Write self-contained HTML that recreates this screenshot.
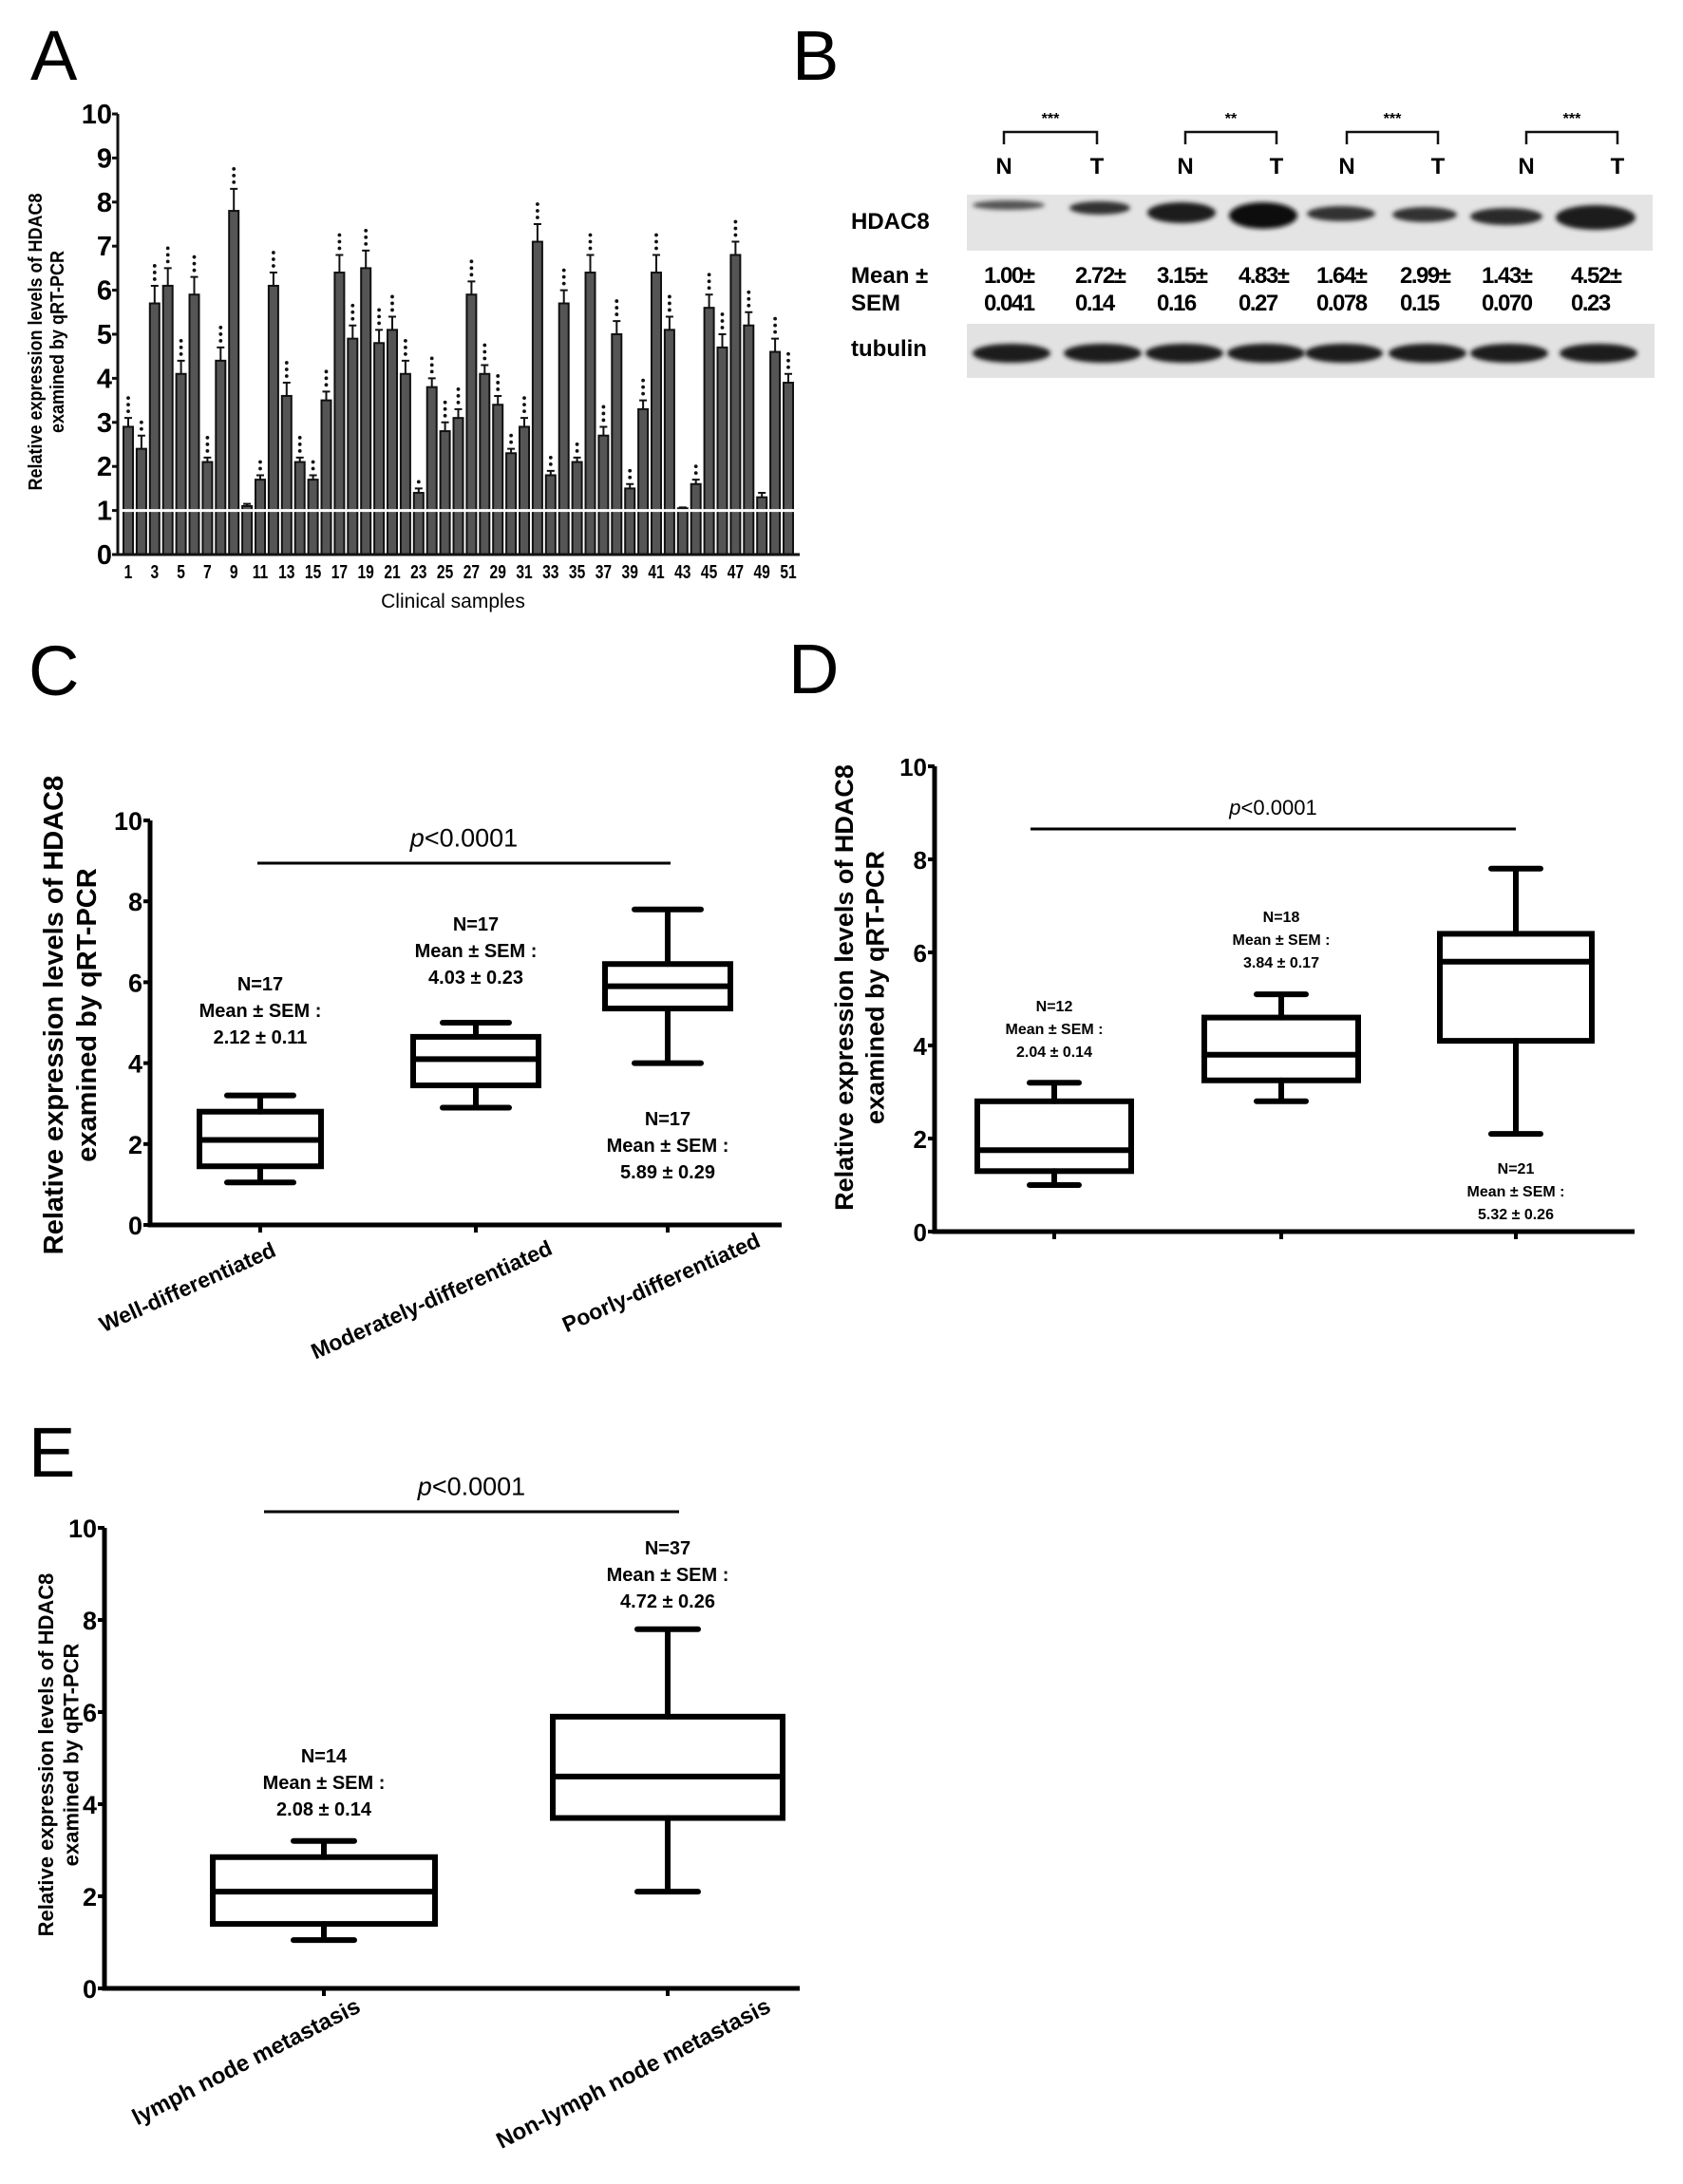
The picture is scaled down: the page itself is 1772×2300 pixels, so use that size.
<!DOCTYPE html>
<html><head><meta charset="utf-8"><style>
html,body{margin:0;padding:0;background:#fff}
svg{display:block}
text{font-family:"Liberation Sans",sans-serif}
</style></head><body>
<svg id="fig" width="1772" height="2300" viewBox="0 0 1772 2300" xmlns="http://www.w3.org/2000/svg">
<defs><filter id="blur" x="-20%" y="-50%" width="140%" height="200%"><feGaussianBlur stdDeviation="2.5"/></filter></defs>
<rect width="1772" height="2300" fill="#fff"/>
<g id="A"></g>
<g id="B"></g>
<g id="C"></g>
<g id="D"></g>
<g id="E"></g>
</svg>
<script>
// ---------- Panel A data ----------
const sampleValues = [2.9,2.4,5.7,6.1,4.1,5.9,2.1,4.4,7.8,1.1,1.7,6.1,3.6,2.1,1.7,3.5,6.4,4.9,6.5,4.8,5.1,4.1,1.4,3.8,2.8,3.1,5.9,4.1,3.4,2.3,2.9,7.1,1.8,5.7,2.1,6.4,2.7,5.0,1.5,3.3,6.4,5.1,1.05,1.6,5.6,4.7,6.8,5.2,1.3,4.6,3.9];
const sampleErrors = [0.2,0.3,0.4,0.4,0.3,0.4,0.1,0.3,0.5,0.05,0.1,0.3,0.3,0.1,0.1,0.2,0.4,0.3,0.4,0.3,0.3,0.3,0.1,0.2,0.2,0.2,0.3,0.2,0.2,0.1,0.2,0.4,0.1,0.3,0.1,0.4,0.2,0.3,0.1,0.2,0.4,0.3,0.02,0.1,0.3,0.3,0.3,0.3,0.1,0.3,0.2];
const sampleStars = [3,2,3,3,3,3,3,3,3,0,2,3,3,3,2,3,3,3,3,3,3,3,1,3,3,3,3,3,3,2,3,3,2,3,2,3,3,3,2,3,3,3,0,2,3,3,3,3,0,3,3];
const aTicks = [0,1,2,3,4,5,6,7,8,9,10];
// ---------- Panel B data ----------
const blotMeans = ["1.00","2.72","3.15","4.83","1.64","2.99","1.43","4.52"];
const blotSems = ["0.041","0.14","0.16","0.27","0.078","0.15","0.070","0.23"];
const pairStars = ["***","**","***","***"];
// ---------- Panel C data ----------
const cCats = ["Well-differentiated","Moderately-differentiated","Poorly-differentiated"];
const cMin = [1.05,2.9,4.0], cQ1=[1.45,3.45,5.35], cMed=[2.1,4.1,5.9], cQ3=[2.8,4.65,6.45], cMax=[3.2,5.0,7.8];
const cN = ["N=17","N=17","N=17"], cMean = ["2.12 ± 0.11","4.03 ± 0.23","5.89 ± 0.29"];
// ---------- Panel D data ----------
const dMin=[1.0,2.8,2.1], dQ1=[1.3,3.25,4.1], dMed=[1.75,3.8,5.8], dQ3=[2.8,4.6,6.4], dMax=[3.2,5.1,7.8];
const dN=["N=12","N=18","N=21"], dMean=["2.04 ± 0.14","3.84 ± 0.17","5.32 ± 0.26"];
// ---------- Panel E data ----------
const eCats=["lymph node metastasis","Non-lymph node metastasis"];
const eMin=[1.05,2.1], eQ1=[1.4,3.7], eMed=[2.1,4.6], eQ3=[2.85,5.9], eMax=[3.2,7.8];
const eN=["N=14","N=37"], eMean=["2.08 ± 0.14","4.72 ± 0.26"];
const boxTicks=[0,2,4,6,8,10];

const NS="http://www.w3.org/2000/svg";
function mk(parent,tag,attrs,txt){const e=document.createElementNS(NS,tag);for(const k in attrs)e.setAttribute(k,attrs[k]);if(txt!==undefined)e.textContent=txt;parent.appendChild(e);return e;}

// ================= Panel A =================
(function(){
const g=document.getElementById('A');
const x0=124,y0=584,y10=120,xEnd=842;
const ys=v=>y0-(v/10)*(y0-y10);
const xs=i=>135+i*((830-135)/50);
let t=mk(g,'text',{x:32,y:84,'font-size':74});t.textContent='A';


sampleValues.forEach((v,i)=>{
 const cx=xs(i),w=10;
 const r=mk(g,'rect',{x:cx-w/2,y:ys(v),width:w,height:y0-ys(v),fill:'#555',stroke:'#111','stroke-width':2});
 
 
 const e=sampleErrors[i];
 const eb=mk(g,'path',{d:`M${cx},${ys(v)} V${ys(v+e)} M${cx-4},${ys(v+e)} H${cx+4}`,stroke:'#111','stroke-width':2,fill:'none'});
 
 
 for(let s=0;s<sampleStars[i];s++){
  const d=mk(g,'circle',{cx:cx,cy:ys(v+e)-7-s*7,r:1.9,fill:'#111'});
  
  
 }
});
const wl=mk(g,'line',{x1:x0+2,x2:xEnd,y1:ys(1),y2:ys(1),stroke:'#fff','stroke-width':3});


const ax=mk(g,'path',{d:`M${x0},${y10} V${y0} H${xEnd}`,stroke:'#111','stroke-width':3,fill:'none'});


aTicks.forEach(v=>{
 mk(g,'line',{x1:x0-6,x2:x0,y1:ys(v),y2:ys(v),stroke:'#111','stroke-width':3});
 const tl=mk(g,'text',{x:x0-6,y:ys(v)+10,'font-size':29,'font-weight':'bold','text-anchor':'end'},String(v));
 
 
});
sampleValues.forEach((v,i)=>{ if(i%2===0){
 const tl=mk(g,'text',{x:xs(i),y:609,'font-size':20,'font-weight':'bold','text-anchor':'middle',transform:`translate(${xs(i)},0) scale(0.78,1) translate(${-xs(i)},0)`},String(i+1));
 
 
}});
const xt=mk(g,'text',{x:477,y:640,'font-size':21,'text-anchor':'middle'},'Clinical samples');


const yt=mk(g,'text',{x:0,y:0,'font-size':20,'font-weight':'bold','text-anchor':'middle',transform:'translate(44,360) rotate(-90) scale(0.9,1)'});


mk(yt,'tspan',{x:0,dy:0},'Relative expression levels of HDAC8');
mk(yt,'tspan',{x:0,dy:23},'examined by qRT-PCR');
})();

// ================= Panel B =================
(function(){
const g=document.getElementById('B');
const L=mk(g,'text',{x:834,y:84,'font-size':74},'B');


const pairX=[[1057,1155],[1248,1344],[1418,1514],[1607,1703]];
const laneX=[1062,1158,1244,1330,1412,1500,1586,1680];
pairX.forEach((p,i)=>{
 const br=mk(g,'path',{d:`M${p[0]},152 V139 H${p[1]} V152`,stroke:'#111','stroke-width':2.5,fill:'none'});
 
 
 const s=mk(g,'text',{x:(p[0]+p[1])/2,y:130,'font-size':16,'font-weight':'bold','text-anchor':'middle'},pairStars[i]);
 
 
 ['N','T'].forEach((c,j)=>{
  const tx=mk(g,'text',{x:p[j],y:183,'font-size':24,'font-weight':'bold','text-anchor':'middle'},c);
  
  
 });
});
const bg1=mk(g,'rect',{x:1018,y:205,width:722,height:59,fill:'#e4e4e4'});


const bg2=mk(g,'rect',{x:1018,y:341,width:724,height:57,fill:'#e2e2e2'});


const hW=[38,32,36,36,36,34,38,42], hH=[5,7,11,14,8,8,9,13], hY=[216,219,224,227,225,226,228,229];
const hC=['#555','#333','#1a1a1a','#111','#333','#333','#2a2a2a','#1a1a1a'];
laneX.forEach((x,i)=>{
 const b=mk(g,'ellipse',{cx:x,cy:hY[i],rx:hW[i],ry:hH[i],fill:hC[i],filter:'url(#blur)'});
 
 
 const tb=mk(g,'ellipse',{cx:x+3,cy:372,rx:41,ry:10,fill:'#1a1a1a',filter:'url(#blur)'});
 
 
 const m=mk(g,'text',{x:x-26,y:298,'font-size':24,'font-weight':'bold','letter-spacing':-1.5},blotMeans[i]+'±');
 
 
 const s=mk(g,'text',{x:x-26,y:327,'font-size':24,'font-weight':'bold','letter-spacing':-1.5},blotSems[i]);
 
 
});
[['HDAC8',241],['Mean ±',298],['SEM',327],['tubulin',375]].forEach(a=>{
 const t=mk(g,'text',{x:896,y:a[1],'font-size':24,'font-weight':'bold'},a[0]);
 
 
});
})();

// ================= Box plot helper =================
function boxPanel(id,cfg){
const g=document.getElementById(id);
const ys=v=>cfg.y0-(v/10)*(cfg.y0-cfg.y10);
const L=mk(g,'text',{x:cfg.lx,y:cfg.ly,'font-size':74},id);


const sw=cfg.sw;
cfg.cx.forEach((cx,i)=>{
 const bx=mk(g,'g',{});
 
 
 mk(bx,'path',{d:`M${cx},${ys(cfg.max[i])} V${ys(cfg.q3[i])} M${cx},${ys(cfg.q1[i])} V${ys(cfg.min[i])} M${cx-cfg.cap},${ys(cfg.max[i])} H${cx+cfg.cap} M${cx-cfg.cap},${ys(cfg.min[i])} H${cx+cfg.cap}`,stroke:'#000','stroke-width':sw,fill:'none','stroke-linecap':'round'});
 mk(bx,'rect',{x:cx-cfg.hw[i],y:ys(cfg.q3[i]),width:2*cfg.hw[i],height:ys(cfg.q1[i])-ys(cfg.q3[i]),fill:'none',stroke:'#000','stroke-width':sw});
 mk(bx,'line',{x1:cx-cfg.hw[i],x2:cx+cfg.hw[i],y1:ys(cfg.med[i]),y2:ys(cfg.med[i]),stroke:'#000','stroke-width':sw});
 mk(g,'line',{x1:cx,x2:cx,y1:cfg.y0,y2:cfg.y0+8,stroke:'#000','stroke-width':4});
 const an=cfg.ann[i];
 [cfg.n[i],'Mean ± SEM :',cfg.mean[i]].forEach((s,j)=>{
  const t=mk(g,'text',{x:cx,y:an+j*cfg.lh,'font-size':cfg.af,'font-weight':'bold','text-anchor':'middle'},s);
  
  
 });
});
const ax=mk(g,'path',{d:`M${cfg.x0},${cfg.y10} V${cfg.y0} H${cfg.xEnd}`,stroke:'#000','stroke-width':5,fill:'none'});


boxTicks.forEach(v=>{
 mk(g,'line',{x1:cfg.x0-7,x2:cfg.x0,y1:ys(v),y2:ys(v),stroke:'#000','stroke-width':4});
 const t=mk(g,'text',{x:cfg.x0-8,y:ys(v)+10,'font-size':cfg.tf,'font-weight':'bold','text-anchor':'end'},String(v));
 
 
});
const sl=mk(g,'line',{x1:cfg.sig[0],x2:cfg.sig[1],y1:cfg.sig[2],y2:cfg.sig[2],stroke:'#000','stroke-width':3});


const pt=mk(g,'text',{x:(cfg.sig[0]+cfg.sig[1])/2,y:cfg.sig[2]-cfg.pf*0.5-4,'font-size':cfg.pf,'text-anchor':'middle'});


mk(pt,'tspan',{'font-style':'italic'},'p');
mk(pt,'tspan',{},'<0.0001');
const yt=mk(g,'text',{x:0,y:0,'font-size':cfg.yf,'font-weight':'bold','text-anchor':'middle',transform:`translate(${cfg.yt[0]},${cfg.yt[1]}) rotate(-90)`});


mk(yt,'tspan',{x:0,dy:0},'Relative expression levels of HDAC8');
mk(yt,'tspan',{x:0,dy:cfg.yf*1.2},'examined by qRT-PCR');
(cfg.cats||[]).forEach((c,i)=>{
 const e=cfg.catEnd[i];
 const t=mk(g,'text',{x:0,y:0,'font-size':cfg.cf,'font-weight':'bold','text-anchor':'end',transform:`translate(${e[0]},${e[1]}) rotate(${cfg.rot})`},c);
 
 
});
}

boxPanel('C',{lx:30,ly:732,x0:158,y0:1290,y10:864,xEnd:823,cx:[274,501,703],hw:[64,66,66],cap:35,sw:6,
 min:cMin,q1:cQ1,med:cMed,q3:cQ3,max:cMax,n:cN,mean:cMean,ann:[1043,980,1185],lh:28,af:20,tf:27,
 sig:[271,706,909],pf:27,yt:[66,1069],yf:29,cats:cCats,catEnd:[[292,1322],[583,1320],[802,1312]],cf:23,rot:-24});
boxPanel('D',{lx:830,ly:730,x0:984,y0:1297,y10:807,xEnd:1721,cx:[1110,1349,1596],hw:[81,81,80],cap:26,sw:6,
 min:dMin,q1:dQ1,med:dMed,q3:dQ3,max:dMax,n:dN,mean:dMean,ann:[1065,971,1236],lh:24,af:16,tf:26,
 sig:[1085,1596,873],pf:22,yt:[898,1040],yf:27});
boxPanel('E',{lx:30,ly:1555,x0:110,y0:2094,y10:1609,xEnd:842,cx:[341,703],hw:[117,121],cap:32,sw:6,
 min:eMin,q1:eQ1,med:eMed,q3:eQ3,max:eMax,n:eN,mean:eMean,ann:[1856,1637],lh:28,af:20,tf:27,
 sig:[278,715,1592],pf:27,yt:[56,1848],yf:22,cats:eCats,catEnd:[[381,2118],[813,2118]],cf:24,rot:-27});
</script>
</body></html>
